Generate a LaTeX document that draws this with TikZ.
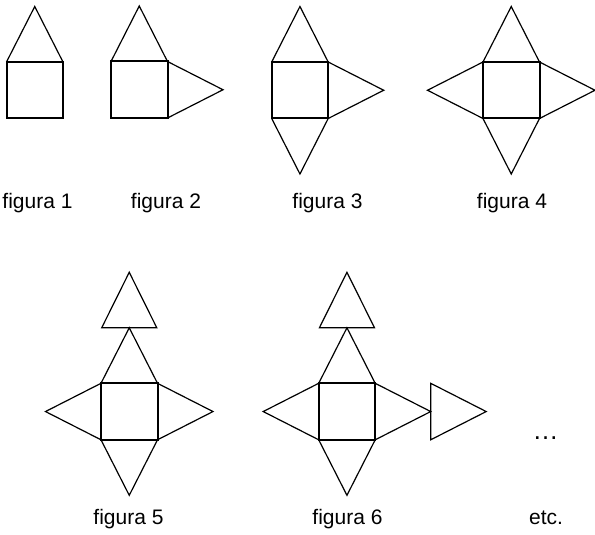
\documentclass[tikz,border=0pt]{standalone}
\usepackage{fontspec}
\setmainfont{Liberation Sans}
\begin{document}
\begin{tikzpicture}[
	x=0.5pt, y=-0.5pt,
	lato/.style={line width=0.6pt, line join=miter, black},
	quadro/.style={line width=1pt, line join=miter, black},
	didascalia/.style={font=\fontsize{10.5}{12}\selectfont, anchor=base}]
	
	\def\s{56.5}                       %% lato del quadrato
	\def\h{55.5}                       %% altezza dei triangoli
	\pgfmathsetmacro{\m}{\s/2}         %% meta' del lato
	
	\useasboundingbox (0,0) rectangle (595,535);
	
	%% --- figura 1 ---
	\begin{scope}[shift={(6.5,62)}]
		\draw[lato] (0,0) -- (\m,-\h) -- (\s,0);
		\draw[quadro] (0,0) rectangle (\s,\s);
	\end{scope}
	
	%% --- figura 2 ---
	\begin{scope}[shift={(111,61.5)}]
		\draw[lato] (0,0) -- (\m,-\h) -- (\s,0);
		\draw[lato] (\s,0) -- (\s+\h,\m) -- (\s,\s);
		\draw[quadro] (0,0) rectangle (\s,\s);
	\end{scope}
	
	%% --- figura 3 ---
	\begin{scope}[shift={(271.7,62)}]
		\draw[lato] (0,0) -- (\m,-\h) -- (\s,0);
		\draw[lato] (\s,0) -- (\s+\h,\m) -- (\s,\s);
		\draw[lato] (0,\s) -- (\m,\s+\h) -- (\s,\s);
		\draw[quadro] (0,0) rectangle (\s,\s);
	\end{scope}
	
	%% --- figura 4 ---
	\begin{scope}[shift={(483,62)}]
		\draw[lato] (0,0) -- (\m,-\h) -- (\s,0);
		\draw[lato] (\s,0) -- (\s+\h,\m) -- (\s,\s);
		\draw[lato] (0,\s) -- (\m,\s+\h) -- (\s,\s);
		\draw[lato] (0,0) -- (-\h,\m) -- (0,\s);
		\draw[quadro] (0,0) rectangle (\s,\s);
	\end{scope}
	
	%% --- figura 5: triangolo in piu' sopra ---
	\begin{scope}[shift={(101,383.3)}]
		\draw[lato] (0,0) -- (\m,-\h) -- (\s,0);
		\draw[lato] (\s,0) -- (\s+\h,\m) -- (\s,\s);
		\draw[lato] (0,\s) -- (\m,\s+\h) -- (\s,\s);
		\draw[lato] (0,0) -- (-\h,\m) -- (0,\s);
		\draw[lato] (0.7,-\h) -- (\m,-2*\h) -- (\s-0.7,-\h) -- cycle;
		\draw[quadro] (0,0) rectangle (\s,\s);
	\end{scope}
	
	%% --- figura 6: triangolo in piu' anche a destra ---
	\begin{scope}[shift={(318.7,383.3)}]
		\draw[lato] (0,0) -- (\m,-\h) -- (\s,0);
		\draw[lato] (\s,0) -- (\s+\h,\m) -- (\s,\s);
		\draw[lato] (0,\s) -- (\m,\s+\h) -- (\s,\s);
		\draw[lato] (0,0) -- (-\h,\m) -- (0,\s);
		\draw[lato] (0.7,-\h) -- (\m,-2*\h) -- (\s-0.7,-\h) -- cycle;
		\draw[lato] (\s+\h,0) -- (\s+2*\h,\m) -- (\s+\h,\s) -- cycle;
		\draw[quadro] (0,0) rectangle (\s,\s);
	\end{scope}
	
	%% --- didascalie ---
	\node[didascalia] (fig1) at (37.5,209) {figura 1};
	\node[didascalia] (fig2) at (166,209) {figura 2};
	\node[didascalia] (fig3) at (327.5,209) {figura 3};
	\node[didascalia] (fig4) at (512,209) {figura 4};
	\node[didascalia] (fig5) at (128.5,524) {figura 5};
	\node[didascalia] (fig6) at (347.5,524) {figura 6};
	\node[didascalia, font=\fontsize{13}{15}\selectfont] (puntini) at (545.5,439) {…};
	\node[didascalia] (etc) at (546,524) {etc.};
	
\end{tikzpicture}
\end{document}
